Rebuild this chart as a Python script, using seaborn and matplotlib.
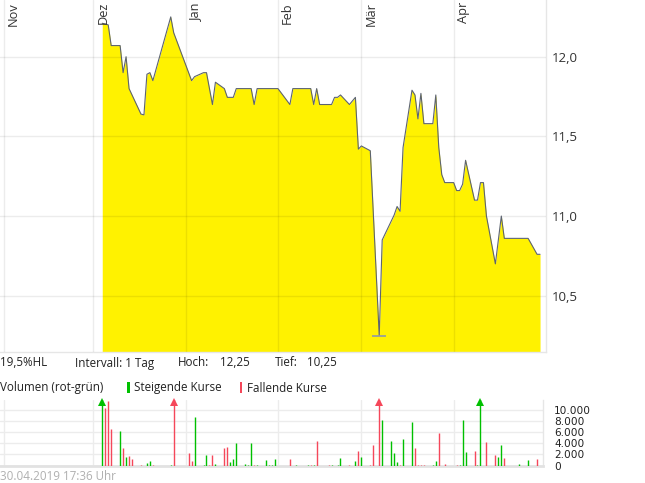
import matplotlib
matplotlib.use('Agg')
import matplotlib.pyplot as plt
from matplotlib.patches import Rectangle
from matplotlib.ticker import FuncFormatter
import seaborn as sns
import pandas as pd

# Kursverlauf (Schlusskurse)
price_dates = ["2018-12-04", "2018-12-06", "2018-12-07", "2018-12-10", "2018-12-11", "2018-12-12",
               "2018-12-13", "2018-12-17", "2018-12-18", "2018-12-19", "2018-12-20", "2018-12-21",
               "2018-12-27", "2018-12-28", "2019-01-03", "2019-01-04", "2019-01-07", "2019-01-08",
               "2019-01-10", "2019-01-11", "2019-01-14", "2019-01-15", "2019-01-17", "2019-01-18",
               "2019-01-23", "2019-01-24", "2019-01-25", "2019-02-01", "2019-02-05", "2019-02-06",
               "2019-02-12", "2019-02-13", "2019-02-14", "2019-02-15", "2019-02-19", "2019-02-20",
               "2019-02-21", "2019-02-22", "2019-02-25", "2019-02-27", "2019-02-28", "2019-03-01",
               "2019-03-04", "2019-03-07", "2019-03-08", "2019-03-12", "2019-03-13", "2019-03-14",
               "2019-03-15", "2019-03-18", "2019-03-19", "2019-03-20", "2019-03-21", "2019-03-22",
               "2019-03-25", "2019-03-26", "2019-03-27", "2019-03-28", "2019-03-29", "2019-04-01",
               "2019-04-02", "2019-04-03", "2019-04-04", "2019-04-05", "2019-04-08", "2019-04-09",
               "2019-04-10", "2019-04-11", "2019-04-12", "2019-04-15", "2019-04-17", "2019-04-18",
               "2019-04-26", "2019-04-29", "2019-04-30"]
price_values = [12.21, 12.20, 12.07, 12.07, 11.90, 12.00,
                11.80, 11.64, 11.635, 11.89, 11.90, 11.85,
                12.25, 12.15, 11.85, 11.875, 11.90, 11.90,
                11.70, 11.84, 11.80, 11.745, 11.745, 11.80,
                11.80, 11.70, 11.80, 11.80, 11.70, 11.80,
                11.80, 11.70, 11.80, 11.70, 11.70, 11.745,
                11.745, 11.76, 11.70, 11.745, 11.42, 11.44,
                11.41, 10.25, 10.85, 11.006, 11.06, 11.03,
                11.43, 11.79, 11.76, 11.61, 11.77, 11.58,
                11.58, 11.76, 11.43, 11.26, 11.21, 11.21,
                11.16, 11.16, 11.20, 11.35, 11.10, 11.10,
                11.21, 11.21, 11.00, 10.70, 11.00, 10.86,
                10.86, 10.76, 10.76]

# Umsatz (Stueck), Richtung: 1 = steigend, 0 = fallend
vol_dates = ["2018-12-04", "2018-12-05", "2018-12-06", "2018-12-07", "2018-12-10", "2018-12-11",
             "2018-12-12", "2018-12-13", "2018-12-14", "2018-12-17", "2018-12-19", "2018-12-20",
             "2018-12-21", "2018-12-27", "2018-12-28", "2019-01-02", "2019-01-03", "2019-01-04",
             "2019-01-07", "2019-01-08", "2019-01-09", "2019-01-10", "2019-01-11", "2019-01-14",
             "2019-01-15", "2019-01-16", "2019-01-17", "2019-01-18", "2019-01-21", "2019-01-22",
             "2019-01-23", "2019-01-24", "2019-01-25", "2019-01-28", "2019-01-29", "2019-01-30",
             "2019-01-31", "2019-02-05", "2019-02-07", "2019-02-11", "2019-02-12", "2019-02-13",
             "2019-02-14", "2019-02-18", "2019-02-19", "2019-02-21", "2019-02-22", "2019-02-25",
             "2019-02-27", "2019-02-28", "2019-03-01", "2019-03-04", "2019-03-05", "2019-03-07",
             "2019-03-08", "2019-03-11", "2019-03-12", "2019-03-13", "2019-03-14", "2019-03-15",
             "2019-03-18", "2019-03-19", "2019-03-20", "2019-03-21", "2019-03-22", "2019-03-25",
             "2019-03-26", "2019-03-27", "2019-03-29", "2019-04-02", "2019-04-03", "2019-04-04",
             "2019-04-05", "2019-04-08", "2019-04-09", "2019-04-10", "2019-04-12", "2019-04-15",
             "2019-04-16", "2019-04-17", "2019-04-18", "2019-04-23", "2019-04-26", "2019-04-29"]
vol_values = [16000, 10300, 11700, 6550, 6180, 3150,
              1450, 1640, 1090, 100, 480, 730,
              100, 180, 14000, 2180, 730, 8730,
              100, 1940, 180, 1820, 360, 3210,
              3390, 550, 1090, 4000, 360, 180,
              4000, 100, 100, 910, 180, 100,
              1090, 1090, 100, 180, 100, 100,
              4360, 180, 100, 100, 1270, 100,
              730, 2550, 1450, 100, 3640, 15000,
              8180, 4360, 2180, 550, 180, 4730,
              7820, 3090, 180, 100, 100, 180,
              730, 5820, 360, 180, 180, 8180,
              2360, 2550, 100, 14000, 4180, 1820,
              1450, 3640, 1270, 360, 910, 1090]
vol_up = [1, 0, 0, 0, 1, 0,
          1, 0, 0, 0, 1, 1,
          0, 1, 0, 0, 0, 1,
          1, 1, 0, 0, 1, 0,
          0, 1, 1, 1, 1, 1,
          1, 0, 1, 1, 1, 1,
          1, 0, 1, 1, 0, 1,
          0, 0, 1, 1, 1, 0,
          1, 0, 1, 0, 0, 0,
          1, 1, 1, 1, 0, 1,
          1, 0, 0, 0, 0, 1,
          1, 0, 0, 0, 1, 1,
          1, 0, 1, 1, 0, 0,
          1, 1, 0, 1, 1, 0]

month_starts = ["2018-11-01", "2018-12-01", "2019-01-01", "2019-02-01", "2019-03-01", "2019-04-01"]
month_labels = ["Nov", "Dez", "Jan", "Feb", "Mär", "Apr"]
price_ticks = [10.5, 11.0, 11.5, 12.0]
vol_ticks = [0, 2000, 4000, 6000, 8000, 10000]

GREEN = '#00c000'
RED = '#f5475a'
YELLOW = '#fff200'
W, H = 645, 483
FS = 8.4

sns.set_style("white")
plt.rcParams['font.family'] = ['Open Sans', 'DejaVu Sans']

x_left = pd.Timestamp("2018-10-30 16:00")
x_right = pd.Timestamp("2019-05-02 00:00")
x_right_vol = pd.Timestamp("2019-05-01 00:00")
months = pd.to_datetime(month_starts)

fig = plt.figure(figsize=(6.45, 4.83), dpi=100)

# --- Kurschart ---
ax = fig.add_axes([0, 1 - 352.3 / H, 546 / W, 352.3 / H])
y_bottom, y_top = 10.145, 12.356
df = pd.DataFrame({'Datum': pd.to_datetime(price_dates), 'Kurs': price_values})
ax.fill_between(df['Datum'], df['Kurs'], y_bottom, color=YELLOW, linewidth=0, zorder=2)
sns.lineplot(data=df, x='Datum', y='Kurs', ax=ax, color='#5d6470', linewidth=0.8, zorder=3)
low = df['Kurs'].idxmin()
ax.plot(df['Datum'][low], df['Kurs'][low], marker='_', markersize=10, mew=1.2,
        color='#8d99aa', zorder=4)

ax.set_xlim(x_left, x_right)
ax.set_ylim(y_bottom, y_top)
ax.set_xticks(months)
ax.set_yticks(price_ticks)
ax.set_axisbelow(False)
ax.grid(True, color='black', alpha=0.075, linewidth=1)
ax.yaxis.tick_right()
ax.yaxis.set_major_formatter(FuncFormatter(lambda v, p: f"{v:.1f}".replace('.', ',')))
ax.tick_params(axis='x', length=0, labelbottom=False)
ax.tick_params(axis='y', length=0, pad=4, labelsize=9.5, labelcolor='#333333')
ax.set_xlabel('')
ax.set_ylabel('')
for s in ['top', 'left']:
    ax.spines[s].set_visible(False)
for s in ['right', 'bottom']:
    ax.spines[s].set_color('#e6e6e6')
    ax.spines[s].set_linewidth(1)

for d, lab in zip(months, month_labels):
    ax.annotate(lab, xy=(d, 1), xycoords=('data', 'axes fraction'), xytext=(2.2, -1.5),
                textcoords='offset points', rotation=90, ha='left', va='top',
                fontsize=9.2, color='#333333')

# --- Infozeilen ---
def ftext(x, y, s, **kw):
    fig.text(x / W, 1 - y / H, s, va='center', ha='left', fontsize=FS, color='#222222', **kw)

ftext(0, 363, "19,5%HL")
ftext(75, 363, "Intervall: 1 Tag")
ftext(178, 363, "Hoch:")
ftext(220, 363, "12,25")
ftext(275, 363, "Tief:")
ftext(307, 363, "10,25")
ftext(0, 388, "Volumen (rot-grün)")
ftext(134, 388, "Steigende Kurse")
ftext(247, 388, "Fallende Kurse")
fig.add_artist(Rectangle((127 / W, 1 - 393 / H), 2.5 / W, 11 / H, transform=fig.transFigure,
                         color=GREEN, linewidth=0))
fig.add_artist(Rectangle((239.5 / W, 1 - 393 / H), 2.5 / W, 11 / H, transform=fig.transFigure,
                         color=RED, linewidth=0))
fig.text(0, 1 - 477 / H, "30.04.2019 17:36 Uhr", va='center', ha='left', fontsize=FS,
         color='#b0b0b0')

# --- Volumen ---
ax2 = fig.add_axes([0, 1 - 465.5 / H, 543 / W, 65.5 / H])
vol_top = 11800
vdf = pd.DataFrame({'Datum': pd.to_datetime(vol_dates), 'Volumen': vol_values, 'up': vol_up})
vcolors = [GREEN if u else RED for u in vdf['up']]
ax2.vlines(vdf['Datum'], 0, vdf['Volumen'], colors=vcolors, linewidth=1.0, zorder=3)
clipped = vdf[vdf['Volumen'] > vol_top]
for _, r in clipped.iterrows():
    ax2.plot(r['Datum'], vol_top * 0.975, marker='^', markersize=5.5, mew=0,
             color=GREEN if r['up'] else RED, clip_on=False, zorder=4)

ax2.set_xlim(x_left, x_right_vol)
ax2.set_ylim(0, vol_top)
ax2.set_xticks(months)
ax2.set_yticks(vol_ticks)
ax2.grid(True, color='#ececec', linewidth=1)
ax2.set_axisbelow(True)
ax2.yaxis.tick_right()
ax2.yaxis.set_major_formatter(FuncFormatter(lambda v, p: f"{int(v):,}".replace(',', '.')))
ax2.tick_params(axis='x', length=0, labelbottom=False)
ax2.tick_params(axis='y', length=0, pad=8, labelsize=7.6, labelcolor='#222222')
for lab in ax2.get_yticklabels():
    lab.set_family('DejaVu Sans')
for s in ['top', 'left']:
    ax2.spines[s].set_visible(False)
ax2.spines['right'].set_color('#e6e6e6')
ax2.spines['right'].set_linewidth(1)
ax2.spines['bottom'].set_color('#e2e2e2')
ax2.spines['bottom'].set_linewidth(2)

fig.savefig('out.png', dpi=100)
